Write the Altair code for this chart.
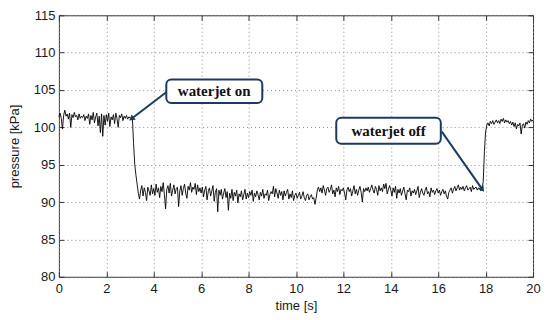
import altair as alt
import numpy as np
import pandas as pd

# ---------------- data ----------------
SAMPLE_STEP = 0.05  # s

pressure_0_to_5 = [
    101.4, 101.9, 101.2, 99.8, 101.6, 102.3, 101.5, 101.8, 101.1, 101.9, 100.0, 101.7, 101.3, 102.0, 101.4, 101.6, 101.0, 101.8, 101.2, 101.5,
    101.3, 101.7, 100.9, 101.5, 101.2, 101.8, 100.4, 101.6, 101.0, 102.0, 100.6, 101.4, 101.9, 100.2, 101.5, 99.3, 101.8, 98.8, 101.6, 100.3,
    101.7, 100.8, 101.9, 100.1, 101.4, 101.0, 101.7, 100.5, 101.9, 101.2, 100.0, 101.6, 101.3, 101.8, 100.9, 101.5, 101.2, 101.6, 101.1, 101.4,
    101.3, 101.1, 101.2, 97.8, 95.0, 93.6, 92.4, 91.2, 90.4, 91.6, 92.2, 90.8, 91.9, 91.3, 90.2, 92.0, 91.5, 90.9, 92.3, 91.1,
    91.8, 90.9, 92.4, 91.3, 91.9, 90.6, 92.1, 91.4, 92.6, 91.0, 89.1, 91.7, 92.2, 91.2, 92.5, 90.8, 91.6, 92.3, 91.1, 91.8,
]
pressure_5_to_10 = [
    92.0, 89.4, 91.5, 92.2, 90.9, 91.8, 92.4, 91.2, 90.5, 92.1, 91.6, 92.6, 91.3, 92.0, 91.7, 92.5, 91.0, 92.3, 91.4, 91.9,
    91.2, 92.0, 90.7, 91.6, 92.1, 90.3, 91.4, 91.9, 90.8, 91.5, 92.2, 90.1, 91.3, 91.8, 88.7, 91.6, 90.9, 91.7, 90.4, 91.2,
    91.8, 90.6, 91.4, 88.9, 91.2, 90.5, 91.7, 90.2, 91.3, 90.8, 91.6, 89.9, 91.1, 90.7, 91.5, 90.3, 91.0, 91.7, 90.4, 91.2,
    90.6, 91.4, 90.9, 91.6, 90.1, 91.2, 90.7, 91.5, 91.0, 90.3, 91.3, 90.8, 91.7, 90.5, 91.1, 90.9, 91.6, 90.2, 91.0, 91.4,
    91.1, 92.1, 90.7, 91.8, 91.2, 90.5, 91.6, 90.9, 91.4, 90.3, 91.5, 90.8, 91.3, 91.7, 90.4, 91.1, 90.6, 91.5, 90.2, 90.9,
]
pressure_10_to_15 = [
    91.2, 90.5, 90.9, 91.3, 90.4, 90.8, 91.4, 90.6, 90.2, 90.9, 91.1, 90.3, 90.7, 91.0, 90.4, 90.6, 89.7, 90.5, 91.6, 92.0,
    91.4, 91.9, 91.2, 92.2, 91.6, 90.9, 91.8, 92.0, 91.3, 91.7, 92.3, 91.1, 91.6, 90.7, 91.9, 91.4, 92.1, 91.0, 91.7, 91.5,
    91.9, 91.2, 90.3, 91.6, 92.0, 91.4, 91.8, 90.8, 91.5, 92.2, 91.1, 91.7, 90.9, 91.6, 92.1, 91.3, 90.0, 91.8, 91.4, 91.9,
    91.5, 92.0, 91.3, 91.8, 92.3, 91.6, 91.2, 92.1, 91.7, 90.9, 92.2, 91.5, 91.9, 91.4, 92.4, 91.8, 92.5, 91.1, 91.7, 92.2,
    91.6, 90.8, 91.9, 91.3, 92.1, 90.5, 91.7, 91.2, 91.8, 90.9, 91.5, 92.0, 91.1, 90.3, 91.6, 91.4, 91.9, 90.8, 91.5, 91.2,
]
pressure_15_to_20 = [
    91.7, 91.0, 91.5, 92.1, 90.6, 91.3, 91.8, 91.2, 90.9, 91.6, 92.0, 91.1, 91.4, 90.7, 91.9, 91.3, 91.6, 91.0, 91.5, 91.8,
    91.2, 91.6, 90.9, 91.4, 91.7, 91.1, 91.5, 90.8, 90.4, 91.3, 91.6, 91.9, 91.2, 91.7, 92.1, 91.5, 91.9, 92.3, 91.6, 92.0,
    91.7, 92.1, 91.5, 91.9, 92.2, 91.6, 91.8, 92.0, 91.4, 92.2, 91.7, 91.9, 92.0, 91.6, 91.9, 91.8, 91.5, 91.7, 92.8, 96.8,
    99.4, 100.3, 100.6, 100.2, 100.8, 100.5, 100.9, 100.4, 100.7, 101.0, 100.6, 100.9, 100.5, 101.1, 100.8, 101.2, 100.6, 101.0, 100.7, 100.9,
    100.5, 100.8, 100.3, 100.7, 100.1, 100.6, 99.8, 100.4, 100.2, 100.6, 99.1, 100.3, 100.5, 99.9, 100.7, 100.4, 100.9, 100.6, 101.1, 100.8,
    101.0,
]

x_ticks = [0, 2, 4, 6, 8, 10, 12, 14, 16, 18, 20]
y_ticks = [80, 85, 90, 95, 100, 105, 110, 115]

# annotations (data coordinates)
note_text = ["waterjet on", "waterjet off"]
tip_time = [3.09, 17.84]
tip_pressure = [101.22, 91.8]
start_time = [4.53, 16.15]
start_pressure = [104.7, 99.43]
box_t0 = [4.53, 11.70]
box_t1 = [8.58, 16.11]
box_p0 = [103.25, 97.8]
box_p1 = [106.4, 101.3]
text_time = [6.55, 13.91]
text_pressure = [104.8, 99.5]
head_angle = [232, 145]

pressure = pressure_0_to_5 + pressure_5_to_10 + pressure_10_to_15 + pressure_15_to_20
time = np.round(np.arange(len(pressure)) * SAMPLE_STEP, 3)
df = pd.DataFrame({"time": time, "pressure": pressure})

notes = pd.DataFrame({
    "text": note_text, "tt": tip_time, "tp": tip_pressure,
    "st": start_time, "sp": start_pressure,
    "bt0": box_t0, "bt1": box_t1, "bp0": box_p0, "bp1": box_p1,
    "xt": text_time, "xp": text_pressure, "ang": head_angle,
})

# ---------------- chart ----------------
FONT = "Liberation Sans"
NAVY = "#1d3a5f"
xs = alt.Scale(domain=[0, 20], nice=False, zero=False)
ys = alt.Scale(domain=[80, 115], nice=False, zero=False)

main_axis = dict(
    labelFont=FONT, labelFontSize=13, labelColor="#1a1a1a",
    titleFont=FONT, titleFontSize=13, titleFontWeight="normal", titleColor="#1a1a1a",
    domain=False, ticks=False, grid=True, gridColor="#8c8c8c", gridDash=[1, 3],
    gridWidth=1, labelFlush=False,
)

line = alt.Chart(df).mark_line(color="black", strokeWidth=0.9).encode(
    x=alt.X("time:Q", scale=xs, axis=alt.Axis(orient="bottom", values=x_ticks, title="time [s]",
                                              labelPadding=6, titlePadding=4, **main_axis)),
    y=alt.Y("pressure:Q", scale=ys, axis=alt.Axis(orient="left", values=y_ticks, title="pressure [kPa]",
                                                  labelPadding=4, titlePadding=12, **main_axis)),
)

tick_axis = dict(domain=False, labels=False, grid=False, ticks=True, tickSize=5,
                 tickColor="#333333", tickWidth=1, offset=-5, title=None)


def x_ticks_layer(orient):
    return alt.Chart(df).mark_point(opacity=0).encode(
        x=alt.X("time:Q", scale=xs, axis=alt.Axis(orient=orient, values=x_ticks, **tick_axis)),
        y=alt.Y("pressure:Q", scale=ys, axis=None),
    )


def y_ticks_layer(orient):
    return alt.Chart(df).mark_point(opacity=0).encode(
        x=alt.X("time:Q", scale=xs, axis=None),
        y=alt.Y("pressure:Q", scale=ys, axis=alt.Axis(orient=orient, values=y_ticks, **tick_axis)),
    )


arrows = alt.Chart(notes).mark_rule(color=NAVY, strokeWidth=2).encode(
    x=alt.X("st:Q", scale=xs, axis=None), y=alt.Y("sp:Q", scale=ys, axis=None),
    x2="tt:Q", y2="tp:Q",
)
heads = alt.Chart(notes).mark_point(shape="triangle", filled=True, color=NAVY, size=45, opacity=1).encode(
    x=alt.X("tt:Q", scale=xs, axis=None), y=alt.Y("tp:Q", scale=ys, axis=None),
    angle=alt.Angle("ang:Q", scale=None),
)
boxes = alt.Chart(notes).mark_rect(fill="white", stroke=NAVY, strokeWidth=2, cornerRadius=5).encode(
    x=alt.X("bt0:Q", scale=xs, axis=None), x2="bt1:Q",
    y=alt.Y("bp0:Q", scale=ys, axis=None), y2="bp1:Q",
)
labels = alt.Chart(notes).mark_text(font="Liberation Serif", fontWeight="bold", fontSize=15,
                                    color="#111111", align="center", baseline="middle").encode(
    x=alt.X("xt:Q", scale=xs, axis=None), y=alt.Y("xp:Q", scale=ys, axis=None),
    text="text:N",
)

chart = alt.layer(
    line,
    x_ticks_layer("top"), x_ticks_layer("bottom"),
    y_ticks_layer("left"), y_ticks_layer("right"),
    arrows, heads, boxes, labels,
).resolve_axis(x="independent", y="independent").properties(
    width=475, height=262,
    padding={"left": 51, "top": 7, "right": 10, "bottom": 42},
    autosize=alt.AutoSizeParams(type="none"),
).configure_view(stroke="#333333", strokeWidth=1)

chart.save("out.html", embed_options={"renderer": "svg", "actions": False})
